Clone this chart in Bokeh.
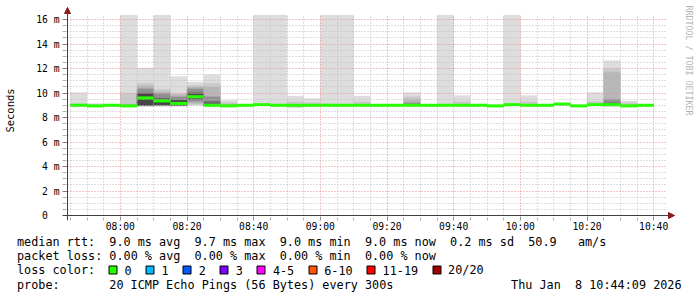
import re
import numpy as np
from bokeh.plotting import figure
from bokeh.layouts import column
from bokeh.models import Range1d, FixedTicker, Arrow, NormalHead
from bokeh.core.properties import value
from bokeh.embed import file_html
from bokeh.resources import INLINE

# ---------------- data ----------------
bin_end = ["07:50", "07:55", "08:00", "08:05", "08:10", "08:15", "08:20", "08:25", "08:30",
           "08:35", "08:40", "08:45", "08:50", "08:55", "09:00", "09:05", "09:10", "09:15",
           "09:20", "09:25", "09:30", "09:35", "09:40", "09:45", "09:50", "09:55", "10:00",
           "10:05", "10:10", "10:15", "10:20", "10:25", "10:30", "10:35", "10:40"]

median = [9.0, 8.95, 9.0, 8.95, 9.6, 9.35, 9.15, 9.7, 9.0, 8.95, 9.0, 9.05, 9.0, 9.0, 9.0, 9.0, 9.0, 9.0,
          9.0, 9.0, 9.0, 9.0, 9.0, 9.0, 9.0, 8.95, 9.05, 9.0, 9.0, 9.1, 8.95, 9.05, 9.05, 8.95, 9.0]

# sorted ping ranks (ms) used for the smoke layers
ping20 = [10.05, 9.15, 9.05, 17.5, 12.05, 17.5, 11.35, 10.9, 11.5, 9.4, 9.05, 17.5, 17.5, 9.75, 9.55, 17.5, 17.5, 9.75,
          9.05, 9.05, 10.05, 9.05, 17.5, 9.8, 9.1, 9.0, 17.5, 9.8, 9.05, 9.15, 9.0, 10.05, 12.65, 9.35, 9.05]
ping19 = [9.15, 9.05, 9.0, 10.0, 10.8, 10.3, 9.95, 10.62, 10.8, 9.25, 9.0, 9.1, 9.1, 9.3, 9.2, 9.1, 9.1, 9.3,
          9.0, 9.0, 9.7, 9.0, 9.1, 9.3, 9.05, 8.95, 9.1, 9.3, 9.0, 9.1, 8.95, 9.3, 12.0, 9.2, 9.0]
ping18 = [9.05, 9.0, 9.0, 9.1, 10.6, 10.1, 9.85, 10.5, 10.5, 9.1, 9.0, 9.05, 9.05, 9.1, 9.05, 9.05, 9.05, 9.1,
          9.0, 9.0, 9.5, 9.0, 9.05, 9.1, 9.0, 8.95, 9.05, 9.1, 9.0, 9.1, 8.95, 9.1, 11.7, 9.05, 9.0]
ping16 = [9.0, 8.95, 9.0, 9.0, 10.35, 9.95, 9.7, 10.35, 9.7, 9.0, 9.0, 9.05, 9.0, 9.0, 9.0, 9.0, 9.0, 9.0,
          9.0, 9.0, 9.2, 9.0, 9.0, 9.0, 9.0, 8.95, 9.05, 9.0, 9.0, 9.1, 8.95, 9.05, 9.5, 8.95, 9.0]
ping14 = [9.0, 8.95, 9.0, 8.95, 10.0, 9.6, 9.45, 10.05, 9.3, 8.95, 9.0, 9.05, 9.0, 9.0, 9.0, 9.0, 9.0, 9.0,
          9.0, 9.0, 9.05, 9.0, 9.0, 9.0, 9.0, 8.95, 9.05, 9.0, 9.0, 9.1, 8.95, 9.05, 9.2, 8.95, 9.0]
ping12 = [9.0, 8.95, 9.0, 8.95, 9.93, 9.45, 9.38, 9.9, 9.05, 8.95, 9.0, 9.05, 9.0, 9.0, 9.0, 9.0, 9.0, 9.0,
          9.0, 9.0, 9.0, 9.0, 9.0, 9.0, 9.0, 8.95, 9.05, 9.0, 9.0, 9.1, 8.95, 9.05, 9.1, 8.95, 9.0]
ping09 = [9.0, 8.95, 9.0, 8.95, 9.0, 9.05, 9.0, 9.6, 9.0, 8.95, 9.0, 9.05, 9.0, 9.0, 9.0, 9.0, 9.0, 9.0,
          9.0, 9.0, 9.0, 9.0, 9.0, 9.0, 9.0, 8.95, 9.05, 9.0, 9.0, 9.1, 8.95, 9.05, 9.0, 8.95, 9.0]
ping07 = [9.0, 8.95, 9.0, 8.95, 8.98, 9.0, 9.0, 9.45, 8.98, 8.95, 9.0, 9.05, 9.0, 8.98, 9.0, 9.0, 9.0, 9.0,
          9.0, 9.0, 9.0, 9.0, 9.0, 9.0, 9.0, 8.95, 9.05, 9.0, 9.0, 9.1, 8.95, 9.05, 9.0, 8.95, 9.0]
ping05 = [8.98, 8.93, 8.98, 8.93, 8.97, 9.0, 8.98, 9.3, 8.97, 8.93, 8.98, 9.03, 8.98, 8.95, 8.98, 8.98, 8.98, 8.98,
          8.98, 8.98, 8.98, 8.98, 8.98, 8.98, 8.98, 8.93, 9.03, 8.98, 8.98, 9.08, 8.93, 9.03, 8.98, 8.93, 8.98]
ping03 = [8.95, 8.9, 8.95, 8.9, 8.95, 8.97, 8.97, 9.15, 8.95, 8.9, 8.95, 9.0, 8.95, 8.9, 8.95, 8.95, 8.95, 8.95,
          8.95, 8.95, 8.95, 8.95, 8.95, 8.95, 8.95, 8.9, 9.0, 8.95, 8.95, 9.05, 8.9, 9.0, 8.95, 8.9, 8.95]
ping02 = [8.93, 8.88, 8.93, 8.88, 8.93, 8.95, 8.95, 9.05, 8.93, 8.88, 8.93, 8.98, 8.93, 8.85, 8.93, 8.93, 8.93, 8.93,
          8.93, 8.93, 8.93, 8.93, 8.93, 8.93, 8.93, 8.88, 8.98, 8.93, 8.93, 9.03, 8.88, 8.98, 8.93, 8.88, 8.93]
ping01 = [8.9, 8.85, 8.9, 8.85, 8.9, 8.9, 8.9, 8.98, 8.9, 8.85, 8.9, 8.95, 8.9, 8.8, 8.9, 8.9, 8.9, 8.9,
          8.9, 8.9, 8.9, 8.9, 8.9, 8.9, 8.9, 8.85, 8.95, 8.9, 8.9, 9.0, 8.85, 8.95, 8.9, 8.85, 8.9]

x_tick_labels = ["08:00", "08:20", "08:40", "09:00", "09:20", "09:40", "10:00", "10:20", "10:40"]
y_tick_values = [0, 2, 4, 6, 8, 10, 12, 14, 16]
y_tick_labels = ["0\u00a0\u00a0", "2 m", "4 m", "6 m", "8 m", "10 m", "12 m", "14 m", "16 m"]

loss_labels = ["0", "1", "2", "3", "4-5", "6-10", "11-19", "20/20"]
loss_colors = ["#26ff00", "#00b8ff", "#0059ff", "#7e00ff", "#ff00ff", "#ff5500", "#ff0000", "#a10000"]

legend_rows = [
    "median rtt:  9.0 ms avg  9.7 ms max  9.0 ms min  9.0 ms now  0.2 ms sd  50.9   am/s",
    "packet loss: 0.00 % avg  0.00 % max  0.00 % min  0.00 % now",
]
probe_text = "probe:       20 ICMP Echo Pings (56 Bytes) every 300s"
date_text = "Thu Jan  8 10:44:09 2026"
watermark = "RRDTOOL / TOBI OETIKER"

# ---------------- geometry ----------------
def tmin(s):
    h, m = s.split(":")
    return int(h) * 60 + int(m)

GRAPH_START = tmin("07:44") + 9 / 60.0
GRAPH_END = GRAPH_START + 180
PX_PER_MIN = 600 / 180.0
PX_PER_MS = 12.25
FRAME_L, FRAME_R, FRAME_T, FRAME_B = 62, 697, 0, 220
AREA_L, AREA_B = 67, 215
Y_TOP = (AREA_B - 14.5) / PX_PER_MS

def xpx(px):
    return GRAPH_START + (px - AREA_L) / PX_PER_MIN

def ypx(py):
    return (AREA_B - py) / PX_PER_MS

MONO = "DejaVu Sans Mono"
MAIN_H = 234

p = figure(frame_width=FRAME_R - FRAME_L, frame_height=FRAME_B - FRAME_T,
           min_border_left=FRAME_L, min_border_right=0,
           min_border_top=FRAME_T, min_border_bottom=MAIN_H - FRAME_B,
           x_range=Range1d(xpx(FRAME_L), xpx(FRAME_R)), y_range=Range1d(ypx(FRAME_B), ypx(FRAME_T)),
           output_backend="svg", toolbar_location=None, tools="")
p.frame_align = False
p.outline_line_color = None
p.background_fill_color = "white"
p.border_fill_color = "white"

# ---------------- smoke ----------------
right = np.array([tmin(e) for e in bin_end], dtype=float)
left = np.maximum(right - 5, GRAPH_START)

layers = [(ping01, ping20, "#dddddd"), (ping02, ping19, "#cacaca"), (ping03, ping18, "#b7b7b7"),
          (ping05, ping16, "#919191"), (ping07, ping14, "#6b6b6b"), (ping09, ping12, "#454545")]
for lo, hi, col in layers:
    p.quad(left=left, right=right, bottom=np.array(lo), top=np.minimum(np.array(hi), Y_TOP),
           fill_color=col, line_color=col, line_width=0.3)

# ---------------- axes / grid ----------------
x_major = [tmin(s) for s in x_tick_labels]
x_minor = [t for t in range(tmin("07:45"), tmin("10:41"), 5) if t not in x_major]
y_minor = [v / 2 for v in range(1, 33) if v % 4 != 0]

xt = FixedTicker(ticks=x_major, minor_ticks=x_minor)
yt = FixedTicker(ticks=y_tick_values, minor_ticks=y_minor)

xa = p.xaxis[0]
xa.ticker = xt
xa.major_label_overrides = {t: s for t, s in zip(x_major, x_tick_labels)}
xa.axis_line_color = None
xa.major_tick_in, xa.major_tick_out = 4, 0
xa.minor_tick_in, xa.minor_tick_out = 3, 0
xa.major_tick_line_color = "#909090"
xa.minor_tick_line_color = "#b0b0b0"
xa.major_label_text_font = MONO
xa.major_label_text_font_size = "9.7px"
xa.major_label_text_color = "black"
xa.major_label_standoff = 0

ya = p.yaxis[0]
ya.ticker = yt
ya.major_label_overrides = {t: s for t, s in zip(y_tick_values, y_tick_labels)}
ya.axis_line_color = None
ya.major_tick_in, ya.major_tick_out = 5, 0
ya.minor_tick_in, ya.minor_tick_out = 4, 0
ya.major_tick_line_color = "#808080"
ya.minor_tick_line_color = "#b0b0b0"
ya.major_label_text_font = MONO
ya.major_label_text_font_size = "9.7px"
ya.major_label_text_color = "black"
ya.major_label_standoff = 3
ya.axis_label = "Seconds"
ya.axis_label_text_font = MONO
ya.axis_label_text_font_size = "10.5px"
ya.axis_label_text_font_style = "normal"
ya.axis_label_text_color = "black"
ya.axis_label_standoff = 17

for g, tk, cb in ((p.xgrid[0], xt, (0, Y_TOP)), (p.ygrid[0], yt, (GRAPH_START, GRAPH_END))):
    g.ticker = tk
    g.grid_line_color = "#ec8a8a"
    g.grid_line_dash = "1 2"
    g.minor_grid_line_color = "#bdbdbd"
    g.minor_grid_line_dash = "1 2"
    g.cross_bounds = cb
    g.level = "guide"

# ---------------- median line ----------------
med = p.segment(x0=left, x1=right, y0=np.array(median), y1=np.array(median),
                line_color="#26ff00", line_width=3, line_cap="butt")
med.level = "annotation"

# ---------------- axis lines with arrows ----------------
AXIS_C = "#404040"
ARROW_C = "#8b1a1a"
p.add_layout(Arrow(x_start=GRAPH_START, y_start=ypx(FRAME_B), x_end=GRAPH_START, y_end=ypx(7),
                   line_color=AXIS_C, line_width=1,
                   end=NormalHead(size=6, fill_color=ARROW_C, line_color=ARROW_C)))
p.add_layout(Arrow(x_start=xpx(FRAME_L), y_start=0, x_end=xpx(674), y_end=0,
                   line_color=AXIS_C, line_width=1,
                   end=NormalHead(size=6, fill_color=ARROW_C, line_color=ARROW_C)))

# vertical watermark on the right edge
p.text(x=[xpx(688)], y=[ypx(5)], text=[watermark], angle=-np.pi / 2,
       text_font=value(MONO), text_font_size=value("8.3px"), text_color="#b4b4b4",
       text_align="left", text_baseline="middle")

# ---------------- legend figure (canvas pixel coordinates) ----------------
q = figure(frame_width=697, frame_height=297 - MAIN_H, x_range=Range1d(0, 697),
           y_range=Range1d(297, MAIN_H),
           x_axis_location=None, y_axis_location=None, min_border=0,
           output_backend="svg", toolbar_location=None, tools="")
q.frame_align = False
q.grid.visible = False
q.outline_line_color = None
q.background_fill_color = "white"
q.border_fill_color = "white"

CHAR_W = 7.1
X0 = 16.5
tx_, ty_, tt_ = [], [], []

def add_row(s, cy, x0=X0):
    for m in re.finditer(r"\S+(?: \S+)*", s):
        tx_.append(x0 + m.start() * CHAR_W)
        ty_.append(cy)
        tt_.append(m.group(0))

add_row(legend_rows[0], 241)
add_row(legend_rows[1], 255.5)
add_row("loss color:", 269.5)
bx = []
tx = 124.0
for lab in loss_labels:
    bx.append(round(tx - 16) + 0.5)
    tx_.append(tx)
    ty_.append(269.5)
    tt_.append(lab)
    tx += len(lab) * CHAR_W + 30
add_row(probe_text, 284)
add_row(date_text, 284, x0=681 - len(date_text) * CHAR_W)

q.quad(left=bx, right=[b + 8 for b in bx], top=[265.5] * len(bx), bottom=[273.5] * len(bx),
       fill_color=loss_colors, line_color="black", line_width=1)
q.text(x=tx_, y=ty_, text=tt_, text_font=value(MONO), text_font_size=value("11.8px"),
       text_color="black", text_align="left", text_baseline="middle")

layout = column(p, q, spacing=0)
open("out.html", "w").write(file_html(layout, INLINE))
